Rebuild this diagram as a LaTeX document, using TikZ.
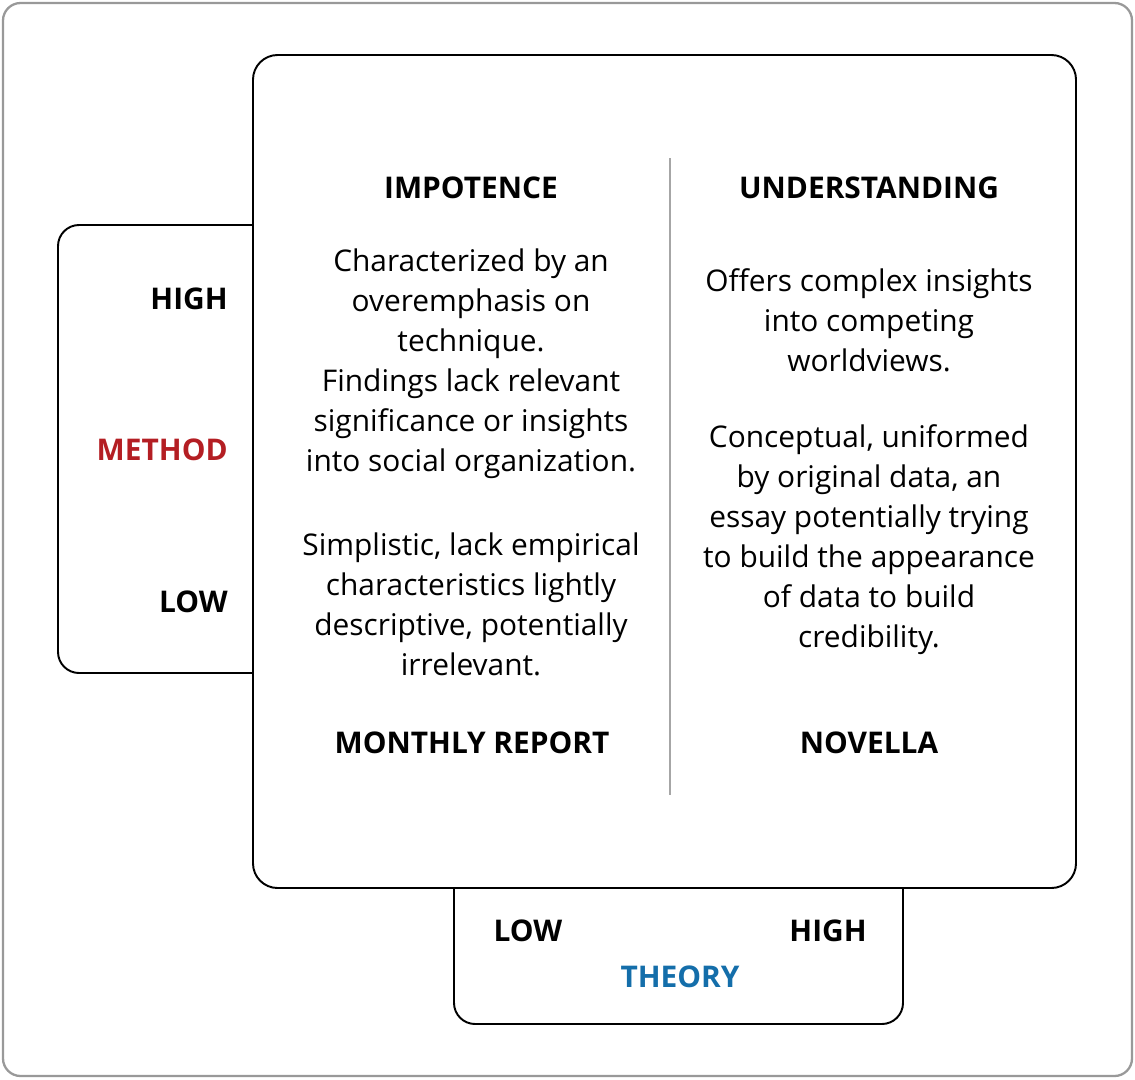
\documentclass[tikz,border=0pt]{standalone}
\usepackage{fontspec}
\setmainfont{Open Sans}
\definecolor{methodred}{RGB}{180,30,35}
\definecolor{theoryblue}{RGB}{20,110,170}
\begin{document}
\begin{tikzpicture}[x=0.02cm,y=-0.02cm]

\tikzstyle{boxline}=[line width=1.1pt,black]
\tikzstyle{bodytext}=[align=center,inner sep=0mm,font=\fontsize{17}{22.76}\selectfont]
\tikzstyle{headtext}=[inner sep=0mm,font=\fontsize{17}{20}\selectfont\bfseries]

\useasboundingbox (0,0) rectangle (1135,1079);
\draw[line width=1.3pt,gray!80,rounded corners=10pt] (3,3) rectangle (1132,1076);

% tabs
\draw[boxline,rounded corners=12pt] (253,225)--(58,225)--(58,673)--(253,673);
\draw[boxline,rounded corners=12pt] (454,888)--(454,1024)--(903,1024)--(903,888);
\draw[boxline,rounded corners=14pt,fill=white] (253,55) rectangle (1076,888);
\draw[line width=1pt,gray!70] (670,158)--(670,795);

% headings
\node[headtext] (imp) at (471,188) {IMPOTENCE};
\node[headtext] (und) at (869,188) {UNDERSTANDING};
\node[headtext] (mon) at (472,743) {MONTHLY REPORT};
\node[headtext] (nov) at (869,743) {NOVELLA};

% quadrant text
\node[bodytext] (l1) at (471,364) {Characterized by an\\overemphasis on\\technique.\\Findings lack relevant\\significance or insights\\into social organization.};
\node[bodytext] (l2) at (471,604) {Simplistic, lack empirical\\characteristics lightly\\descriptive, potentially\\irrelevant.};
\node[bodytext] (r1) at (869,320) {Offers complex insights\\into competing\\worldviews.};
\node[bodytext] (r2) at (869,540) {Conceptual, uniformed\\by original data, an\\essay potentially trying\\to build the appearance\\of data to build\\credibility.};

% axes
\node[headtext,anchor=east] (mhigh) at (228,299) {HIGH};
\node[headtext,anchor=east,text=methodred] (meth) at (228,450) {METHOD};
\node[headtext,anchor=east] (mlow) at (228,602) {LOW};
\node[headtext] (tlow) at (528,931) {LOW};
\node[headtext] (thigh) at (828,931) {HIGH};
\node[headtext,text=theoryblue] (theo) at (680,977) {THEORY};

\end{tikzpicture}
\end{document}
